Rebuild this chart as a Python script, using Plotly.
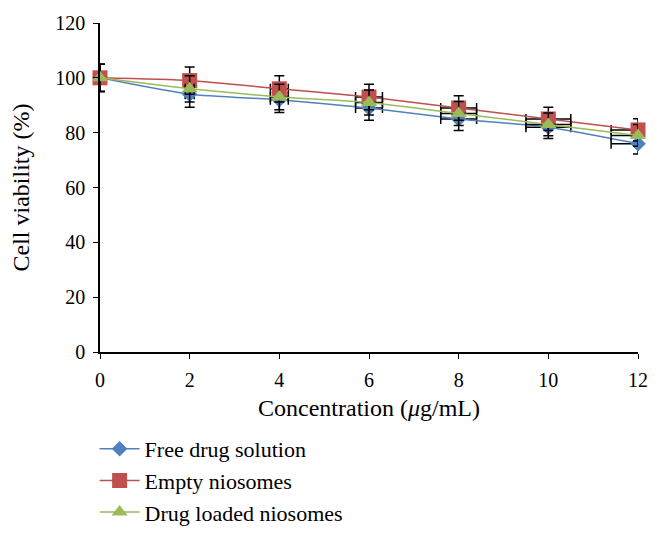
import plotly.graph_objects as go

conc = [0, 2, 4, 6, 8, 10, 12]
free_drug = [100, 94, 92, 89, 85, 82, 76]
empty_nio = [100, 99, 96, 93, 89, 85, 81]
loaded_nio = [100, 96, 93, 91, 87, 83, 79]
names = ["Free drug solution", "Empty niosomes", "Drug loaded niosomes"]
colors = ["#4F81BD", "#C0504D", "#9BBB59"]
symbols = ["diamond", "square", "triangle-up"]
sizes = [12, 15, 14]

FONT = "Liberation Serif"
fig = go.Figure()
for i, (vals, name, c, s, sz) in enumerate(zip([free_drug, empty_nio, loaded_nio], names, colors, symbols, sizes)):
    fig.add_trace(go.Scatter(
        x=conc, y=vals, name=name, mode="lines+markers", legendgroup=f"g{i}",
        line=dict(color=c, width=1.5, shape="spline", smoothing=0.6),
        marker=dict(symbol=s, size=sz, color=c),
        error_y=dict(type="percent", value=5, color="black", thickness=1.5, width=5),
        error_x=dict(type="percent", value=5, color="black", thickness=1.5, width=5),
        cliponaxis=False,
    ))

# page body has an 8px default margin; margins below compensate for it
fig.update_layout(
    width=661, height=533,
    margin=dict(l=92, r=31, t=15, b=189),
    plot_bgcolor="white", paper_bgcolor="white",
    font=dict(family=FONT, size=20, color="black"),
    showlegend=True,
    legend=dict(x=-0.01, y=0.212, yref="container", xanchor="left", yanchor="top",
                font=dict(family=FONT, size=22), tracegroupgap=0,
                itemwidth=40, bgcolor="rgba(0,0,0,0)"),
    xaxis=dict(range=[0, 12], tickvals=conc, showgrid=False, zeroline=False,
               showline=True, linecolor="black", linewidth=1.5, automargin=False,
               ticks="outside", ticklen=5, tickcolor="black", ticklabelstandoff=4,
               tickfont=dict(family=FONT, size=20),
               title=dict(text="Concentration (<i>μ</i>g/mL)", standoff=9,
                          font=dict(family=FONT, size=24))),
    yaxis=dict(range=[0, 120], dtick=20, showgrid=False, zeroline=False,
               showline=True, linecolor="black", linewidth=1.5, automargin=False,
               ticks="outside", ticklen=5, tickcolor="black", ticklabelstandoff=4,
               tickfont=dict(family=FONT, size=20),
               title=dict(text="Cell viability (%)", standoff=23,
                          font=dict(family=FONT, size=24))),
)
fig.write_html("out.html")
